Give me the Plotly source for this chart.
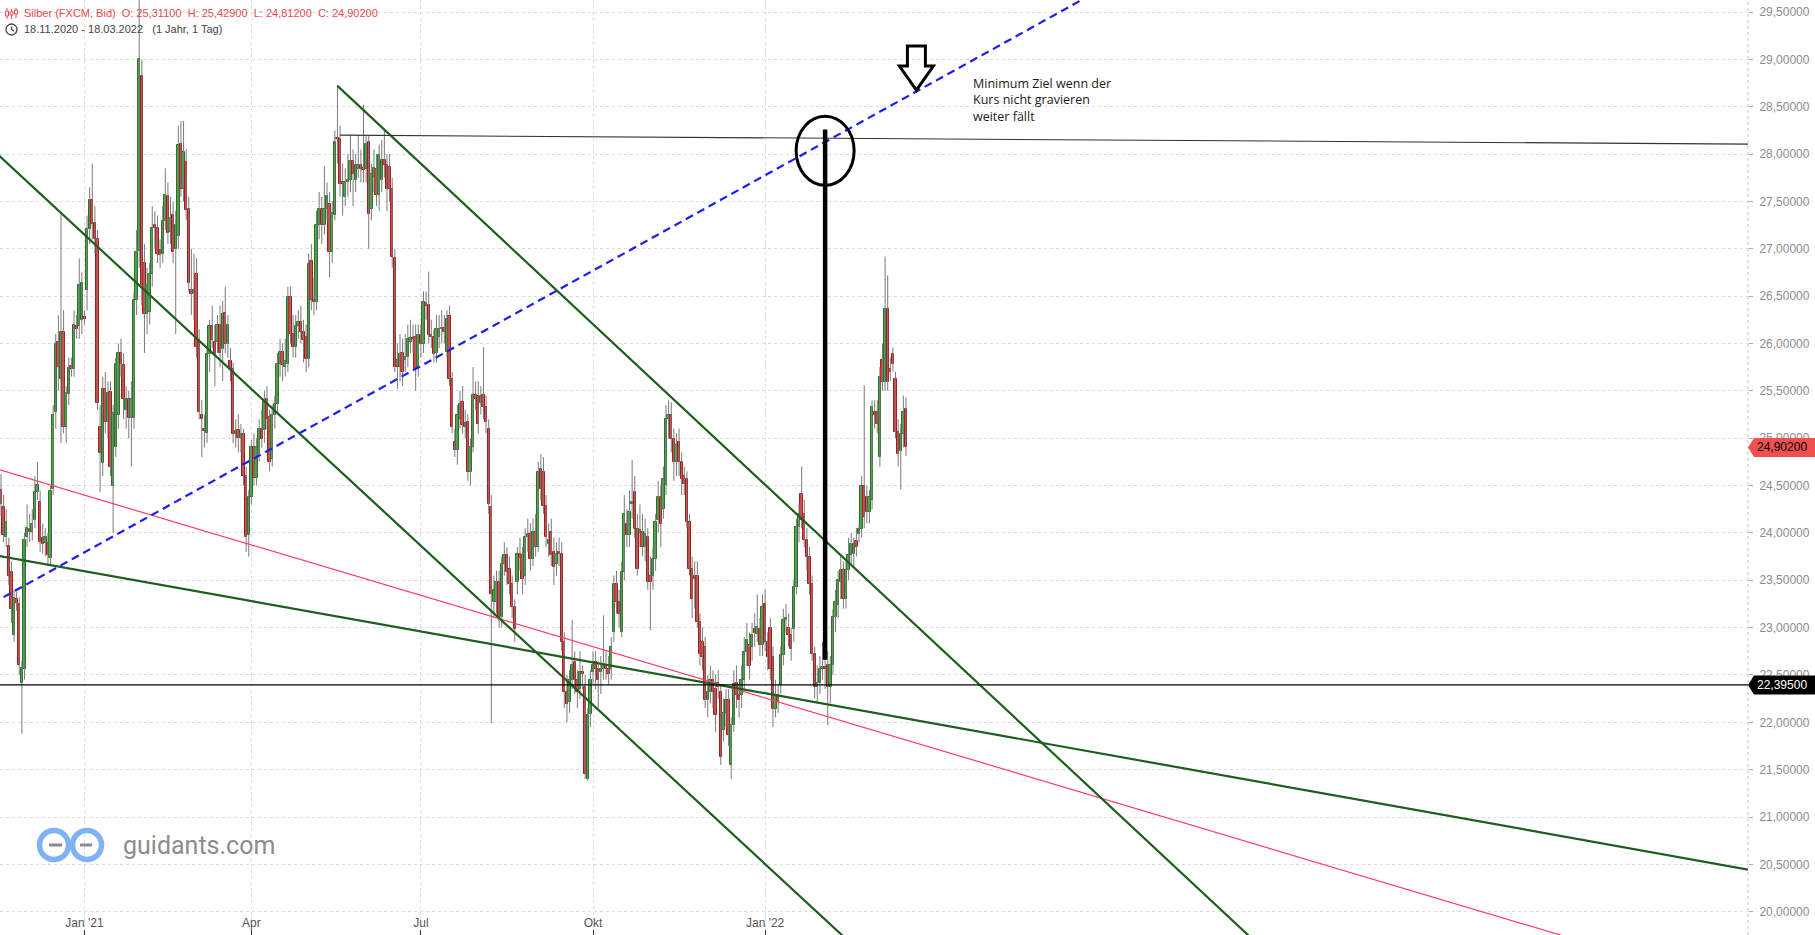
import numpy as np
import pandas as pd
import plotly.graph_objects as go

# ---------------------------------------------------------------- data
START = "2020-11-18"          # first trading day shown (daily candles, Mon-Fri)

open_ = [
    24.45, 24.27, 23.96, 23.86, 23.59, 22.92, 23.30, 23.25, 22.41, 22.56,
    23.96, 24.04, 24.01, 24.14, 24.43, 24.33, 23.95, 23.89, 23.89, 23.74,
    24.46, 25.28, 26.02, 25.62, 26.12, 25.12, 25.47, 25.76, 25.73, 26.18,
    26.18, 26.25, 26.28, 26.56, 27.21, 27.52, 27.27, 27.10, 25.12, 24.74,
    25.52, 25.17, 25.49, 24.49, 24.91, 25.25, 25.90, 25.77, 25.30, 25.41,
    25.21, 25.21, 26.46, 26.98, 28.82, 26.85, 26.31, 26.33, 26.73, 27.25,
    27.22, 26.99, 26.94, 27.29, 27.56, 27.18, 27.36, 27.00, 27.14, 28.11,
    27.63, 27.92, 27.42, 26.57, 26.53, 26.73, 26.04, 25.24, 25.10, 25.05,
    25.89, 26.18, 26.02, 26.02, 26.19, 25.94, 26.32, 25.99, 25.81, 25.73,
    25.04, 25.09, 25.00, 25.04, 24.60, 23.98, 24.38, 24.91, 24.58, 24.83,
    25.10, 25.09, 25.41, 25.22, 24.78, 25.25, 25.36, 25.78, 25.91, 25.75,
    25.78, 26.49, 26.10, 25.96, 26.18, 26.23, 26.12, 26.07, 25.84, 26.87,
    26.46, 26.44, 27.25, 27.42, 27.25, 27.42, 27.47, 26.97, 27.36, 28.17,
    28.16, 27.71, 27.55, 27.71, 27.73, 27.93, 27.73, 27.84, 27.89, 27.85,
    27.84, 28.13, 27.42, 27.76, 27.84, 27.57, 27.73, 27.94, 27.89, 27.86,
    27.63, 26.90, 25.83, 25.75, 25.90, 25.83, 25.86, 26.02, 26.06, 26.07,
    25.73, 26.09, 25.99, 26.43, 26.41, 26.09, 26.07, 25.90, 26.07, 26.15,
    26.16, 25.91, 26.29, 25.62, 24.96, 24.88, 25.20, 25.38, 25.16, 25.17,
    24.64, 24.91, 25.46, 25.45, 25.37, 25.46, 25.33, 25.10, 24.27, 23.27,
    23.27, 23.48, 23.11, 23.67, 23.77, 23.62, 23.46, 23.22, 23.48, 23.78,
    23.77, 23.54, 23.96, 23.99, 23.72, 24.01, 23.85, 24.67, 24.64, 24.28,
    23.88, 24.01, 23.80, 23.67, 23.80, 23.78, 22.85, 22.32, 22.21, 22.45,
    22.64, 22.45, 22.35, 22.53, 22.37, 21.40, 22.09, 22.53, 22.64, 22.56,
    22.53, 22.56, 22.61, 22.56, 22.56, 22.95, 23.46, 23.27, 22.95, 23.59,
    24.09, 23.98, 24.30, 24.43, 24.04, 24.00, 24.01, 23.85, 23.96, 23.54,
    23.54, 23.72, 24.14, 24.38, 24.25, 24.51, 25.20, 25.25, 24.99, 24.75,
    24.96, 24.75, 24.60, 24.57, 24.12, 23.62, 23.54, 23.54, 23.06, 22.85,
    22.79, 22.24, 22.32, 22.45, 22.35, 22.42, 22.32, 21.92, 22.10, 22.24,
    21.55, 21.97, 22.42, 22.29, 22.29, 22.45, 22.74, 22.82, 22.79, 22.99,
    22.93, 22.98, 22.82, 23.25, 22.85, 23.00, 22.69, 22.14, 22.29, 22.39,
    22.71, 23.08, 23.00, 22.92, 22.98, 23.43, 24.06, 24.41, 24.20, 23.93,
    23.75, 23.46, 22.72, 22.37, 22.42, 22.56, 22.58, 22.61, 22.37, 22.61,
    23.11, 23.24, 23.48, 23.61, 23.30, 23.61, 23.77, 23.78, 23.91, 23.99,
    24.04, 24.49, 24.38, 24.22, 24.35, 25.28, 25.28, 24.80, 25.83, 25.59,
    26.36, 25.73, 25.89, 25.62, 25.07, 24.86, 25.04, 25.311,
]

high_ = [
    24.62, 24.40, 24.25, 23.95, 23.70, 23.40, 23.38, 23.32, 22.65, 24.00,
    24.30, 24.20, 24.25, 24.60, 24.75, 24.45, 24.10, 24.05, 24.00, 24.50,
    25.35, 26.10, 26.30, 27.36, 26.35, 25.55, 25.85, 25.85, 26.35, 26.30,
    26.90, 26.75, 26.35, 27.35, 27.65, 27.90, 27.45, 27.20, 25.35, 25.65,
    25.70, 25.60, 25.60, 25.35, 25.85, 26.00, 26.05, 25.90, 25.55, 25.50,
    25.60, 26.55, 27.20, 30.07, 29.00, 27.05, 26.80, 26.85, 27.45, 27.40,
    27.35, 27.10, 27.45, 27.85, 27.70, 27.55, 27.50, 27.40, 28.30, 28.35,
    28.35, 28.05, 27.55, 27.00, 26.95, 26.90, 26.15, 25.40, 25.25, 25.95,
    26.25, 26.40, 26.20, 26.30, 26.40, 26.45, 26.60, 26.30, 25.95, 25.80,
    25.20, 25.25, 25.15, 25.10, 24.70, 24.45, 24.98, 25.05, 25.00, 25.20,
    25.30, 25.50, 25.55, 25.30, 25.35, 25.45, 25.90, 26.05, 26.00, 26.05,
    26.60, 26.60, 26.30, 26.30, 26.35, 26.40, 26.25, 26.20, 26.95, 27.05,
    26.70, 27.40, 27.60, 27.55, 27.87, 27.70, 27.60, 27.50, 28.25, 28.73,
    28.30, 27.90, 27.85, 28.00, 28.20, 28.05, 28.00, 28.20, 28.05, 28.52,
    28.20, 28.20, 27.90, 28.05, 28.00, 28.10, 28.15, 28.25, 28.00, 28.00,
    27.75, 27.00, 26.00, 26.10, 26.05, 26.10, 26.20, 26.25, 26.20, 26.20,
    26.20, 26.20, 26.55, 26.55, 26.76, 26.25, 26.15, 26.30, 26.30, 26.35,
    26.30, 26.35, 26.40, 25.70, 25.10, 25.35, 25.50, 25.55, 25.30, 25.25,
    25.00, 25.75, 25.60, 25.60, 25.55, 25.96, 25.45, 25.20, 24.40, 23.55,
    23.60, 23.60, 23.75, 23.90, 23.85, 23.75, 23.55, 23.30, 23.85, 23.95,
    23.85, 24.05, 24.15, 24.10, 24.15, 24.20, 24.75, 24.83, 24.80, 24.40,
    24.10, 24.15, 23.95, 23.90, 23.95, 23.90, 22.95, 22.50, 22.55, 23.08,
    22.75, 22.55, 22.75, 22.60, 22.50, 22.15, 22.55, 22.75, 22.75, 22.65,
    22.70, 23.13, 22.75, 22.70, 22.90, 23.55, 23.60, 23.40, 23.70, 24.40,
    24.25, 24.45, 24.77, 24.60, 24.20, 24.30, 24.20, 24.15, 24.05, 23.75,
    23.85, 24.20, 24.55, 24.50, 24.70, 25.35, 25.40, 25.38, 25.10, 25.05,
    25.10, 24.85, 24.70, 24.65, 24.20, 23.75, 23.70, 23.70, 23.15, 23.00,
    22.90, 22.50, 22.60, 22.55, 22.50, 22.55, 22.40, 22.25, 22.35, 22.35,
    22.05, 22.55, 22.60, 22.40, 22.60, 22.90, 23.05, 22.95, 23.05, 23.15,
    23.35, 23.10, 23.35, 23.40, 22.95, 23.10, 22.80, 22.45, 22.40, 22.80,
    23.20, 23.25, 23.15, 23.00, 23.50, 24.15, 24.30, 24.70, 24.35, 24.05,
    23.85, 23.55, 22.80, 22.60, 22.70, 22.85, 22.80, 22.75, 22.70, 23.20,
    23.40, 23.60, 23.75, 23.70, 23.70, 23.95, 24.00, 23.95, 24.05, 24.10,
    24.60, 25.56, 24.50, 24.45, 25.40, 25.40, 25.40, 25.75, 26.00, 26.92,
    26.72, 25.85, 25.96, 25.70, 25.20, 25.15, 25.45, 25.429,
]

low_ = [
    24.18, 23.90, 23.85, 23.45, 23.05, 22.85, 23.18, 22.50, 21.88, 22.45,
    23.85, 23.90, 23.92, 24.05, 24.35, 23.80, 23.78, 23.75, 23.65, 23.65,
    24.40, 25.10, 25.50, 24.95, 25.05, 24.95, 25.35, 25.65, 25.65, 26.05,
    26.05, 26.10, 26.20, 26.35, 27.05, 27.10, 26.95, 25.30, 24.43, 24.60,
    25.05, 25.00, 24.60, 24.00, 24.80, 25.10, 25.65, 25.20, 25.10, 25.00,
    24.70, 25.10, 26.30, 26.80, 26.40, 25.90, 26.10, 26.20, 26.60, 27.00,
    26.85, 26.80, 26.85, 27.20, 27.05, 27.05, 26.85, 26.10, 27.00, 27.55,
    27.50, 27.30, 26.55, 26.30, 26.25, 25.85, 25.20, 24.80, 24.90, 24.95,
    25.70, 25.95, 25.55, 25.90, 25.75, 25.60, 25.90, 25.85, 25.60, 24.95,
    24.90, 24.85, 24.85, 24.50, 23.80, 23.75, 24.30, 24.50, 24.50, 24.75,
    24.90, 24.95, 25.10, 24.65, 24.70, 25.10, 25.25, 25.65, 25.60, 25.65,
    25.70, 26.00, 25.85, 25.85, 26.05, 26.00, 25.80, 25.70, 25.75, 26.35,
    26.30, 26.35, 27.10, 27.05, 27.15, 27.30, 26.70, 26.85, 27.30, 27.90,
    27.55, 27.35, 27.45, 27.55, 27.60, 27.45, 27.60, 27.75, 27.70, 27.70,
    27.70, 27.00, 27.30, 27.60, 27.45, 27.40, 27.60, 27.75, 27.40, 27.50,
    26.80, 25.70, 25.52, 25.60, 25.55, 25.70, 25.75, 25.90, 25.90, 25.50,
    25.65, 25.85, 25.90, 26.25, 26.00, 25.95, 25.80, 25.80, 25.95, 26.00,
    26.00, 25.85, 25.55, 25.05, 24.80, 24.72, 25.10, 25.05, 25.00, 24.55,
    24.50, 24.85, 25.30, 25.05, 25.25, 25.20, 25.05, 24.20, 21.99, 23.10,
    23.15, 23.00, 23.00, 23.55, 23.45, 23.35, 23.10, 22.85, 23.35, 23.60,
    23.35, 23.45, 23.80, 23.60, 23.65, 23.75, 23.80, 24.35, 24.20, 23.85,
    23.75, 23.65, 23.45, 23.55, 23.65, 22.75, 22.15, 22.00, 22.10, 22.35,
    22.30, 22.15, 22.25, 22.35, 21.40, 21.38, 21.95, 22.40, 22.35, 22.15,
    22.30, 22.45, 22.45, 22.40, 22.45, 22.85, 23.15, 23.00, 22.90, 23.50,
    23.85, 23.85, 24.15, 23.95, 23.55, 23.85, 23.75, 23.70, 23.40, 22.97,
    23.40, 23.60, 24.00, 23.85, 24.15, 24.40, 25.00, 24.85, 24.55, 24.60,
    24.60, 24.40, 24.40, 24.05, 23.55, 23.10, 23.20, 23.00, 22.60, 22.55,
    22.15, 22.05, 22.20, 22.15, 21.90, 22.25, 21.55, 21.80, 21.95, 21.75,
    21.40, 21.90, 22.15, 22.05, 22.15, 22.35, 22.60, 22.45, 22.65, 22.80,
    22.85, 22.70, 22.70, 22.75, 22.55, 22.45, 21.95, 22.05, 22.10, 22.30,
    22.60, 22.95, 22.80, 22.65, 22.85, 23.35, 23.90, 24.05, 23.85, 23.60,
    23.35, 22.65, 22.25, 22.20, 22.30, 22.45, 22.35, 21.97, 22.20, 22.50,
    22.95, 23.10, 23.30, 23.20, 23.20, 23.50, 23.65, 23.65, 23.75, 23.90,
    23.95, 24.05, 24.10, 24.10, 24.25, 25.10, 25.05, 24.70, 25.50, 25.50,
    25.50, 25.60, 25.70, 25.00, 24.70, 24.46, 24.90, 24.812,
]

close_ = [
    24.30, 23.98, 24.12, 23.54, 23.20, 23.31, 23.26, 22.61, 22.57, 23.93,
    24.05, 24.01, 24.09, 24.43, 24.51, 23.90, 23.88, 23.96, 23.77, 24.44,
    25.25, 25.99, 25.75, 26.12, 25.12, 25.48, 25.74, 25.73, 26.19, 26.15,
    26.62, 26.64, 26.26, 27.21, 27.51, 27.26, 27.10, 25.37, 24.84, 25.52,
    25.17, 25.48, 24.70, 25.27, 25.78, 25.90, 25.78, 25.41, 25.41, 25.21,
    25.41, 26.46, 26.97, 29.00, 26.62, 26.31, 26.62, 26.73, 27.22, 27.22,
    26.94, 26.93, 27.29, 27.57, 27.17, 27.33, 26.97, 27.25, 28.10, 27.63,
    28.02, 27.41, 26.64, 26.52, 26.56, 25.96, 25.28, 25.20, 25.08, 25.89,
    26.18, 26.04, 25.89, 26.19, 25.90, 26.31, 25.99, 26.20, 25.73, 25.04,
    25.08, 25.00, 25.04, 24.60, 23.96, 24.38, 24.91, 24.58, 24.91, 25.10,
    24.99, 25.38, 25.20, 24.75, 25.25, 25.36, 25.78, 25.91, 25.77, 25.81,
    26.49, 26.10, 25.96, 26.18, 26.23, 26.12, 26.04, 25.84, 26.84, 26.46,
    26.44, 27.25, 27.42, 27.25, 27.42, 27.56, 26.97, 27.38, 28.13, 28.16,
    27.68, 27.68, 27.71, 27.73, 27.93, 27.79, 27.89, 27.89, 27.84, 27.83,
    28.11, 27.37, 27.79, 27.85, 27.57, 27.99, 27.94, 27.89, 27.63, 27.63,
    26.91, 25.75, 25.75, 25.89, 25.70, 25.86, 26.05, 26.06, 26.05, 25.73,
    26.09, 25.99, 26.44, 26.40, 26.09, 26.07, 25.89, 26.15, 26.15, 26.16,
    26.12, 26.26, 25.62, 25.12, 24.88, 25.25, 25.36, 25.14, 25.12, 24.64,
    24.91, 25.46, 25.41, 25.15, 25.45, 25.33, 25.17, 24.30, 23.36, 23.40,
    23.48, 23.11, 23.67, 23.77, 23.59, 23.46, 23.22, 22.98, 23.78, 23.74,
    23.51, 23.96, 23.99, 23.72, 24.01, 23.85, 24.64, 24.46, 24.28, 23.96,
    23.93, 23.77, 23.64, 23.78, 23.78, 22.85, 22.32, 22.19, 22.45, 22.61,
    22.45, 22.32, 22.53, 22.51, 21.45, 22.08, 22.45, 22.61, 22.56, 22.45,
    22.56, 22.61, 22.56, 22.51, 22.80, 23.46, 23.27, 23.14, 23.59, 24.20,
    23.98, 24.22, 24.33, 24.04, 23.62, 24.03, 23.85, 23.99, 23.48, 23.48,
    23.72, 24.12, 24.38, 24.09, 24.57, 25.20, 25.25, 24.99, 24.75, 24.93,
    24.75, 24.57, 24.52, 24.12, 23.62, 23.30, 23.51, 23.06, 22.72, 22.69,
    22.24, 22.32, 22.45, 22.32, 22.08, 22.37, 21.63, 22.10, 22.24, 21.87,
    21.97, 22.40, 22.29, 22.24, 22.45, 22.74, 22.87, 22.59, 22.92, 22.94,
    23.01, 22.82, 23.22, 22.85, 22.69, 22.56, 22.14, 22.29, 22.21, 22.71,
    23.08, 23.10, 22.92, 22.77, 23.43, 24.06, 24.20, 24.14, 23.93, 23.75,
    23.46, 22.72, 22.37, 22.42, 22.56, 22.58, 22.56, 22.37, 22.61, 23.11,
    23.27, 23.50, 23.61, 23.30, 23.61, 23.77, 23.88, 23.88, 23.85, 24.04,
    24.49, 24.17, 24.22, 24.38, 25.33, 25.25, 25.15, 25.65, 25.59, 26.36,
    25.59, 25.70, 25.78, 25.07, 24.83, 25.04, 25.28, 24.902,
]

level_price = 22.395                                   # horizontal support level
month_names = {1: "Jan", 4: "Apr", 7: "Jul", 10: "Okt"}
header_name = "Silber (FXCM, Bid)"
period_text = "18.11.2020 - 18.03.2022"
period_note = "(1 Jahr, 1 Tag)"
note_lines = ["Minimum Ziel wenn der", "Kurs nicht gravieren", "weiter fällt"]
logo_text = "guidants.com"

# drawn trend lines: two (date, price) anchors each
blue_pts = [("2020-11-18", 23.307), ("2022-03-18", 28.600)]
chan_top_pts = [("2021-05-18", 28.720), ("2022-03-18", 23.122)]
chan_bot_pts = [("2020-11-18", 27.964), ("2022-01-03", 20.503)]
support_pts = [("2020-11-18", 23.754), ("2022-03-18", 22.040)]
pink_pts = [("2020-11-18", 24.661), ("2022-03-18", 21.813)]
resist_pts = [("2021-05-19", 28.200), ("2022-03-18", 28.162)]
target_pts = [("2022-02-03", 22.66), ("2022-02-03", 28.26)]
circle_center = ("2022-02-03", 28.035)
arrow_tip = ("2022-03-24", 28.676)
note_anchor = ("2022-04-22", 28.57)

# ---------------------------------------------------------------- geometry
W, H = 1815, 935
PW = 1748                      # plot-area width in px (right margin holds price axis)
X_RANGE = [-0.383, 669.87]
Y_RANGE = [19.754, 29.627]

n = len(close_)
dates = pd.bdate_range(START, periods=n)
x = np.arange(n)
start64 = np.datetime64(START)


def pos(d):
    return float(np.busday_count(start64, np.datetime64(d)))


def px_x(px):
    return px / PW


def px_y(py):
    return 1 - py / H


def extend(pts, from_anchor=False):
    (d1, p1), (d2, p2) = pts
    x1, x2 = pos(d1), pos(d2)
    k = (p2 - p1) / (x2 - x1)
    xs = x1 if from_anchor else X_RANGE[0] - 3
    xe = X_RANGE[1] + 3
    return [xs, xe], [p1 + k * (xs - x1), p1 + k * (xe - x1)]


fig = go.Figure()

# wicks
wx, wy = [], []
for i in range(n):
    wx += [i, i, None]
    wy += [low_[i], high_[i], None]
fig.add_trace(go.Scatter(x=wx, y=wy, mode="lines", line=dict(color="#7a7a7a", width=1),
                         hoverinfo="skip", showlegend=False))

# bodies
o = np.array(open_)
c = np.array(close_)
up = c >= o
base = np.minimum(o, c)
height = np.maximum(np.abs(c - o), 0.012)
fig.add_trace(go.Bar(
    x=x, y=height, base=base, width=0.9,
    marker=dict(color=np.where(up, "#3fb43a", "#f03838").tolist(),
                line=dict(color=np.where(up, "#2a7326", "#a51c1c").tolist(), width=1)),
    hoverinfo="skip", showlegend=False))

# trend lines
line_specs = [
    (pink_pts, False, dict(color="#ff3b6b", width=1.2)),
    (support_pts, False, dict(color="#1d5e1d", width=2.2)),
    (chan_bot_pts, False, dict(color="#1d5e1d", width=2.2)),
    (chan_top_pts, True, dict(color="#1d5e1d", width=2.2)),
    (resist_pts, True, dict(color="#333333", width=1.1)),
    (blue_pts, False, dict(color="#1a1ef0", width=2.2, dash="8px,5px")),
]
for pts, fa, style in line_specs:
    lx, ly = extend(pts, fa)
    fig.add_trace(go.Scatter(x=lx, y=ly, mode="lines", line=style,
                             hoverinfo="skip", showlegend=False))

# horizontal level
fig.add_trace(go.Scatter(x=[X_RANGE[0] - 3, X_RANGE[1] + 3], y=[level_price, level_price],
                         mode="lines", line=dict(color="#000000", width=1.2),
                         hoverinfo="skip", showlegend=False))

# measured move (thick vertical)
fig.add_trace(go.Scatter(x=[pos(d) for d, _ in target_pts], y=[p for _, p in target_pts],
                         mode="lines", line=dict(color="#000000", width=4.5),
                         hoverinfo="skip", showlegend=False))

shapes = []
# ellipse
shapes.append(dict(type="circle", xref="x", yref="y", xsizemode="pixel", ysizemode="pixel",
                   xanchor=pos(circle_center[0]), yanchor=circle_center[1],
                   x0=-29, x1=29, y0=-34.5, y1=34.5,
                   line=dict(color="#000000", width=3), layer="above"))
# hollow arrow
shapes.append(dict(type="path", xref="x", yref="y", xsizemode="pixel", ysizemode="pixel",
                   xanchor=pos(arrow_tip[0]), yanchor=arrow_tip[1],
                   path="M 0 0 L 17 24 L 9 24 L 9 44 L -9 44 L -9 24 L -17 24 Z",
                   line=dict(color="#000000", width=3), fillcolor="rgba(0,0,0,0)", layer="above"))
# dotted price axis line
shapes.append(dict(type="line", xref="paper", yref="paper", x0=1, x1=1, y0=0, y1=1,
                   line=dict(color="#c4c4c4", width=1, dash="dot"), layer="above"))
# price tags
for price, col in [(close_[-1], "#f0514f"), (level_price, "#000000")]:
    shapes.append(dict(type="path", xref="paper", yref="y", xsizemode="pixel", ysizemode="pixel",
                       xanchor=1, yanchor=price,
                       path="M 0 0 L 6 9.5 L 68 9.5 L 68 -9.5 L 6 -9.5 Z",
                       fillcolor=col, line=dict(width=0), layer="above"))

# header candle icon (red)
icon_red = "#e34d4d"
for cx, top, bot, b0, b1 in [(7, 8, 19, 11, 16), (11.5, 9, 19, 12, 15), (16, 8, 18, 10, 14)]:
    shapes.append(dict(type="line", xref="paper", yref="paper", x0=px_x(cx), x1=px_x(cx),
                       y0=px_y(top), y1=px_y(bot), line=dict(color=icon_red, width=1)))
    shapes.append(dict(type="rect", xref="paper", yref="paper", x0=px_x(cx - 1.5), x1=px_x(cx + 1.5),
                       y0=px_y(b0), y1=px_y(b1), line=dict(color=icon_red, width=1),
                       fillcolor="white"))
# clock icon
shapes.append(dict(type="circle", xref="paper", yref="paper", x0=px_x(6), x1=px_x(17),
                   y0=px_y(24), y1=px_y(35), line=dict(color="#444444", width=1.3)))
shapes.append(dict(type="path", xref="paper", yref="paper",
                   path=f"M {px_x(11.5)} {px_y(26.5)} L {px_x(11.5)} {px_y(29.5)} L {px_x(14)} {px_y(31)}",
                   line=dict(color="#444444", width=1.3)))

# logo rings + dashes
for cx in (54, 87):
    shapes.append(dict(type="circle", xref="paper", yref="paper", x0=px_x(cx - 14.5), x1=px_x(cx + 14.5),
                       y0=px_y(830.5), y1=px_y(859.5), line=dict(color="#7fb2f2", width=5.5)))
for xa, xb in [(49, 62), (80, 92)]:
    shapes.append(dict(type="line", xref="paper", yref="paper", x0=px_x(xa), x1=px_x(xb),
                       y0=px_y(845), y1=px_y(845), line=dict(color="#8a8a8a", width=3)))

annotations = []
sp = "\u00a0\u00a0"
annotations.append(dict(
    xref="paper", yref="paper", x=px_x(22), y=px_y(13), xanchor="left", yanchor="middle",
    text=(f"{header_name}{sp}O: {open_[-1]:.5f}{sp}H: {high_[-1]:.5f}{sp}"
          f"L: {low_[-1]:.5f}{sp}C: {close_[-1]:.5f}").replace(".", ","),
    showarrow=False, font=dict(family="Liberation Sans, Arial", size=11, color=icon_red)))
annotations.append(dict(
    xref="paper", yref="paper", x=px_x(22), y=px_y(29), xanchor="left", yanchor="middle",
    text=f"{period_text}\u00a0\u00a0\u00a0{period_note}", showarrow=False,
    font=dict(family="Liberation Sans, Arial", size=11, color="#444444")))
annotations.append(dict(
    xref="x", yref="y", x=pos(note_anchor[0]), y=note_anchor[1], xanchor="left", yanchor="middle",
    align="left", text="<br>".join(note_lines), showarrow=False,
    font=dict(family="Open Sans", size=12.5, color="#1a1a1a")))
for price, fcol in [(close_[-1], "#000000"), (level_price, "#ffffff")]:
    annotations.append(dict(
        xref="paper", yref="y", x=1, y=price, xanchor="left", yanchor="middle", xshift=7,
        text=f"{price:.5f}".replace(".", ","), showarrow=False,
        font=dict(family="Liberation Sans, Arial", size=12, color=fcol)))
annotations.append(dict(
    xref="paper", yref="paper", x=px_x(121), y=px_y(845), xanchor="left", yanchor="middle",
    text=logo_text, showarrow=False, font=dict(family="Roboto", size=25, color="#8c8c8c")))

# x ticks: first trading day of each quarter month
tickvals, ticktext = [], []
prev = None
for i, d in enumerate(dates):
    key = (d.year, d.month)
    if key != prev and d.month in month_names:
        tickvals.append(int(x[i]))
        ticktext.append(f"{month_names[d.month]} '{d.year % 100:02d}" if d.month == 1 else month_names[d.month])
    prev = key

fig.update_layout(
    width=W, height=H,
    margin=dict(l=0, r=W - PW, t=0, b=0),
    paper_bgcolor="white", plot_bgcolor="white",
    separators=",.",
    showlegend=False,
    bargap=0,
    shapes=shapes,
    annotations=annotations,
    xaxis=dict(range=X_RANGE, tickvals=tickvals, ticktext=ticktext,
               showgrid=True, gridcolor="#d9dde2", griddash="dot", gridwidth=1,
               ticks="inside", ticklen=5, tickcolor="#333333",
               ticklabelposition="inside", ticklabelstandoff=0,
               tickfont=dict(family="Liberation Sans, Arial", size=12, color="#555555"),
               zeroline=False, showline=False, fixedrange=True),
    yaxis=dict(range=Y_RANGE, side="right", tick0=20, dtick=0.5, tickformat=".5f",
               showgrid=True, gridcolor="#d9dde2", griddash="dot", gridwidth=1,
               ticks="outside", ticklen=4, tickcolor="#aaaaaa", ticklabelstandoff=4,
               tickfont=dict(family="Liberation Sans, Arial", size=12, color="#8c8c8c"),
               zeroline=False, showline=False, fixedrange=True),
)

fig.write_html("out.html", config={"displayModeBar": False},
               post_script="document.body.style.margin='0';document.body.style.overflow='hidden';")
